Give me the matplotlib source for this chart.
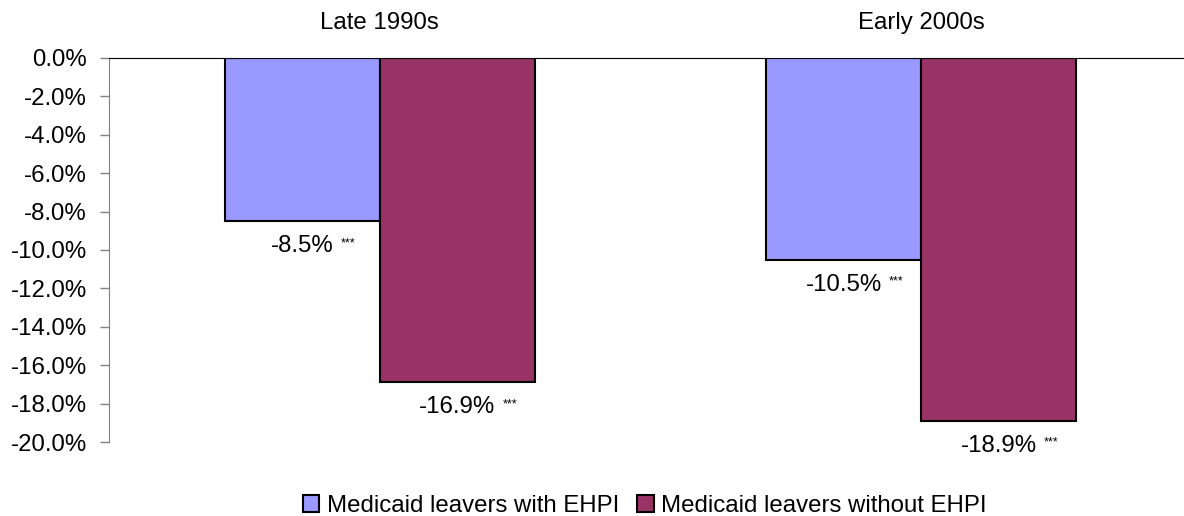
import matplotlib
matplotlib.use('Agg')
import matplotlib.pyplot as plt

# data
periods = ['Late 1990s', 'Early 2000s']
with_ehpi = [-8.5, -10.5]
without_ehpi = [-16.9, -18.9]
series_names = ['Medicaid leavers with EHPI', 'Medicaid leavers without EHPI']
yticks = [0, -2, -4, -6, -8, -10, -12, -14, -16, -18, -20]

plt.rcParams['font.family'] = ['Liberation Sans', 'DejaVu Sans']
fs = 17.3

fig = plt.figure(figsize=(11.84, 5.16), dpi=100)
W, H = 1184, 516
ax = fig.add_axes([109 / W, 74 / H, 1083 / W, 384 / H])

w = 0.286
x = range(len(periods))
b1 = ax.bar([i - w / 2 for i in x], with_ehpi, width=w, color='#9999FF',
            edgecolor='black', linewidth=1.5, label=series_names[0])
b2 = ax.bar([i + w / 2 for i in x], without_ehpi, width=w, color='#993366',
            edgecolor='black', linewidth=1.5, label=series_names[1])

ax.set_xlim(-0.5, 1.5)
ax.set_ylim(-20, 0)
ax.set_yticks(yticks)
ax.set_yticklabels(['%.1f%%' % v for v in yticks], fontsize=fs)
ax.tick_params(axis='y', length=6.5, width=1, color='#808080', pad=9.4)

ax.xaxis.tick_top()
ax.set_xticks(list(x))
ax.set_xticklabels(periods, fontsize=fs)
ax.tick_params(axis='x', length=0, pad=17)

ax.spines['right'].set_visible(False)
ax.spines['bottom'].set_visible(False)
ax.spines['left'].set_color('#808080')
ax.spines['top'].set_color('black')

# value labels with significance stars
for bars, vals in [(b1, with_ehpi), (b2, without_ehpi)]:
    for rect, v in zip(bars, vals):
        cx = rect.get_x() + rect.get_width() / 2
        t = ax.annotate('%.1f%%' % v, xy=(cx, v), xytext=(0, -25),
                        textcoords='offset pixels', ha='center', va='center',
                        fontsize=fs)
        ax.annotate('***', xy=(1, 1), xycoords=t, xytext=(7, -2),
                    textcoords='offset pixels', ha='left', va='top', fontsize=9)

fig.legend(handles=[b1, b2], loc='center', bbox_to_anchor=(644.5 / W, 10 / H),
           ncol=2, frameon=False, fontsize=fs, handlelength=0.7,
           handleheight=0.7, handletextpad=0.3, columnspacing=0.75,
           borderpad=0, borderaxespad=0)

fig.savefig('out.png', dpi=100)
